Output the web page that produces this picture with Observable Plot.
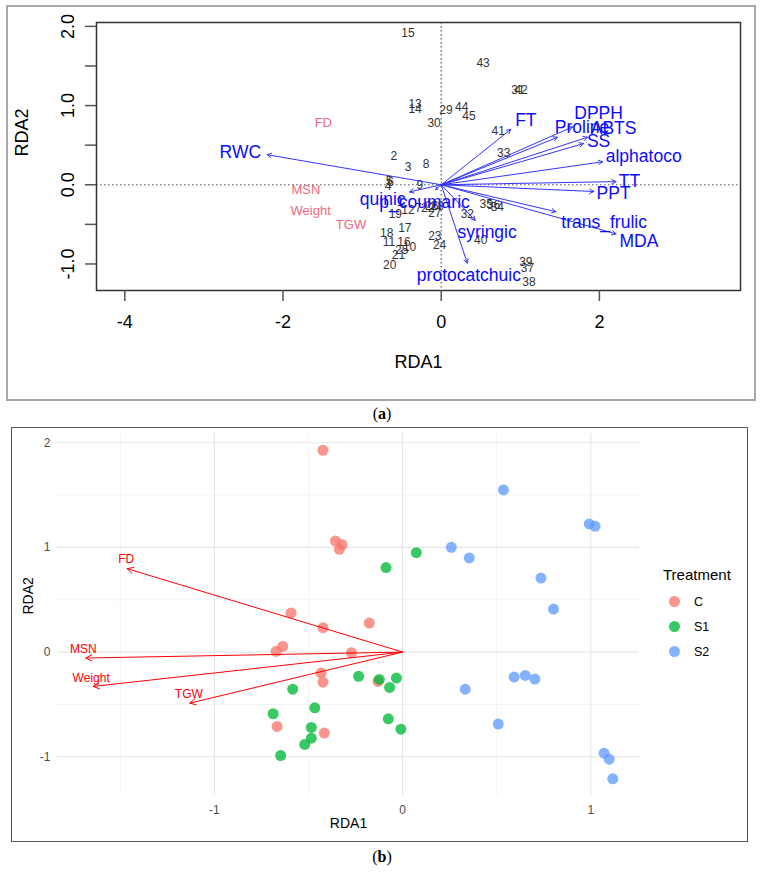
<!DOCTYPE html>
<html>
<head>
<meta charset="utf-8">
<script src="https://cdn.jsdelivr.net/npm/d3@7"></script>
<script src="https://cdn.jsdelivr.net/npm/@observablehq/plot@0.6"></script>
<style>
html,body{margin:0;padding:0;background:#fff;}
#page{position:relative;width:764px;height:872px;overflow:hidden;font-family:"Liberation Sans",Arial,sans-serif;}
.abs{position:absolute;}
#borderA{left:6px;top:5px;width:746px;height:392px;border:2px solid #a8a8a8;pointer-events:none;}
#borderB{left:11px;top:427px;width:735px;height:413px;border:1.5px solid #555;pointer-events:none;}
#chartA{left:0;top:0;}
#chartB{left:0;top:420px;}
.cap{font-family:"Liberation Serif","DejaVu Serif",serif;font-size:16px;color:#000;width:764px;text-align:center;left:0;}
#legend{left:663px;top:566px;font-family:"Liberation Sans",Arial,sans-serif;}
#legend .title{font-size:15px;color:#000;margin-bottom:6px;}
#legend .item{display:flex;align-items:center;height:25px;font-size:12.5px;color:#000;}
#legend .sw{width:11px;height:11px;border-radius:50%;margin-left:6px;margin-right:14px;}
</style>
</head>
<body>
<div id="page">
  <div id="chartA" class="abs"></div>
  <div id="borderA" class="abs"></div>
  <div class="abs cap" style="top:405px;">(<b>a</b>)</div>
  <div id="chartB" class="abs"></div>
  <div id="borderB" class="abs"></div>
  <div id="legend" class="abs"></div>
  <div class="abs cap" style="top:848px;">(<b>b</b>)</div>
</div>
<script>
// ---------------- Panel (a): RDA triplot (R base graphics) ----------------
const sampleIds = [1,2,3,4,5,6,7,8,9,10,11,12,13,14,15,16,17,18,19,20,21,22,23,24,25,26,27,28,29,30,31,32,33,34,35,36,37,38,39,40,41,42,43,44,45];
const sampleRDA1 = [-0.52,-0.60,-0.42,-0.67,-0.66,-0.64,-0.29,-0.19,-0.27,-0.40,-0.66,-0.42,-0.33,-0.33,-0.42,-0.47,-0.46,-0.69,-0.58,-0.65,-0.54,-0.17,-0.08,-0.02,-0.50,-0.12,-0.08,-0.05,0.06,-0.09,0.97,0.33,0.79,0.71,0.57,0.66,1.09,1.11,1.07,0.50,0.72,1.01,0.53,0.26,0.35];
const sampleRDA2 = [-0.22,0.36,0.22,-0.02,0.04,0.03,-0.29,0.26,-0.01,-0.79,-0.73,-0.32,1.02,0.96,1.91,-0.73,-0.55,-0.61,-0.37,-1.01,-0.89,-0.29,-0.65,-0.76,-0.83,-0.27,-0.36,-0.27,0.94,0.78,1.20,-0.37,0.40,-0.28,-0.25,-0.26,-1.05,-1.23,-0.98,-0.70,0.68,1.19,1.53,0.98,0.87];

const responseNames = ["RWC","FT","Proline","DPPH","ABTS","SS","alphatoco","TT","PPT","trans_frulic","MDA","syringic","protocatchuic","quinic","p_coumaric"];
const responseRDA1 = [-2.20,0.88,1.47,1.66,1.85,1.80,2.04,2.21,1.93,1.45,2.21,0.43,0.33,-0.40,-0.07];
const responseRDA2 = [0.38,0.70,0.60,0.73,0.60,0.52,0.29,0.04,-0.085,-0.34,-0.62,-0.45,-0.99,-0.09,-0.06];
const responseLabelRDA1 = [-2.54,1.07,1.78,1.99,2.18,1.99,2.56,2.38,2.18,2.06,2.50,0.58,0.35,-0.74,-0.21];
const responseLabelRDA2 = [0.41,0.81,0.73,0.90,0.71,0.55,0.36,0.04,-0.11,-0.48,-0.72,-0.60,-1.14,-0.18,-0.22];

const traitNamesA = ["FD","MSN","Weight","TGW"];
const traitRDA1A = [-1.49,-1.71,-1.65,-1.14];
const traitRDA2A = [0.78,-0.07,-0.33,-0.50];

const xTicksA = [-4,-2,0,2];
const yTicksA = [-1,-0.5,0,0.5,1,1.5,2];

// ---------------- Panel (b): ggplot RDA with treatments ----------------
const treatments = ["C","S1","S2"];
const treatmentColors = ["#F8766D","#00BA38","#619CFF"];
const cRDA1 = [-0.423,-0.357,-0.322,-0.336,-0.593,-0.423,-0.177,-0.672,-0.637,-0.272,-0.433,-0.423,-0.131,-0.667,-0.416];
const cRDA2 = [1.928,1.061,1.027,0.982,0.373,0.233,0.277,0.007,0.054,-0.006,-0.201,-0.287,-0.280,-0.710,-0.774];
const s1RDA1 = [-0.234,-0.124,-0.033,-0.069,-0.584,-0.467,-0.688,-0.485,-0.485,-0.520,-0.648,-0.076,-0.009,-0.088,0.073];
const s1RDA2 = [-0.232,-0.261,-0.248,-0.338,-0.354,-0.532,-0.589,-0.720,-0.822,-0.882,-0.988,-0.637,-0.736,0.807,0.950];
const s2RDA1 = [0.536,0.992,1.023,0.259,0.354,0.735,0.802,0.333,0.593,0.652,0.703,0.508,1.071,1.098,1.117];
const s2RDA2 = [1.549,1.224,1.202,1.001,0.899,0.707,0.411,-0.354,-0.239,-0.223,-0.258,-0.688,-0.966,-1.023,-1.211];

const traitNamesB = ["FD","MSN","Weight","TGW"];
const traitTipRDA1B = [-1.464,-1.684,-1.644,-1.131];
const traitTipRDA2B = [0.797,-0.057,-0.328,-0.488];
const traitLabelRDA1B = [-1.469,-1.697,-1.655,-1.136];
const traitLabelRDA2B = [0.883,0.026,-0.249,-0.404];

const xMajorB = [-1,0,1], xMinorB = [-1.5,-0.5,0.5];
const yMajorB = [-1,0,1,2], yMinorB = [-0.5,0.5,1.5];

// ---------------- build tables ----------------
const samplesA = sampleIds.map((id,i)=>({id:String(id), x:sampleRDA1[i], y:sampleRDA2[i]}));
const responsesA = responseNames.map((n,i)=>({name:n, x:responseRDA1[i], y:responseRDA2[i], lx:responseLabelRDA1[i], ly:responseLabelRDA2[i]}));
const traitsA = traitNamesA.map((n,i)=>({name:n, x:traitRDA1A[i], y:traitRDA2A[i]}));

const fontA = "'Liberation Sans', Arial, sans-serif";

const chartA = Plot.plot({
  width: 764, height: 410,
  marginLeft: 96, marginRight: 24, marginTop: 22, marginBottom: 120,
  x: {domain: [-4.358, 3.784], label: null},
  y: {domain: [-1.335, 2.049], label: null},
  style: {fontFamily: fontA, fontSize: "18px", color: "#000", background: "transparent", overflow: "visible"},
  marks: [
    Plot.ruleX([0], {stroke: "#555", strokeWidth: 1.2, strokeDasharray: "1.5,2.5"}),
    Plot.ruleY([0], {stroke: "#555", strokeWidth: 1.2, strokeDasharray: "1.5,2.5"}),
    Plot.text(samplesA, {x: "x", y: "y", text: "id", fill: "#333", fontSize: 12}),
    Plot.text(traitsA, {x: "x", y: "y", text: "name", fill: "#f06a7e", fontSize: 13}),
    Plot.arrow(responsesA, {x1: () => 0, y1: () => 0, x2: "x", y2: "y", stroke: "#3434ff", strokeWidth: 1, headLength: 7, headAngle: 55}),
    Plot.text(responsesA, {x: "lx", y: "ly", text: "name", fill: "#0a0aff", fontSize: 17.5}),
    Plot.frame({stroke: "#333", strokeWidth: 1.5}),
    Plot.axisX({ticks: xTicksA, tickSize: 11, tickPadding: 14, tickFormat: d => String(d), fontSize: 18, stroke: "#555", strokeWidth: 1.5, label: null}),
    Plot.axisY({ticks: yTicksA, tickSize: 11, tickPadding: 12, tickRotate: -90, tickFormat: d => Number.isInteger(d) ? d.toFixed(1) : "", fontSize: 18, stroke: "#555", strokeWidth: 1.5, label: null}),
    Plot.text(["RDA1"], {frameAnchor: "bottom", dy: 77, text: d => d, fontSize: 18}),
    Plot.text(["RDA2"], {frameAnchor: "left", dx: -74, rotate: -90, text: d => d, fontSize: 18})
  ]
});
document.getElementById("chartA").appendChild(chartA);

// ---------------- Panel (b) ----------------
const pointsB = [
  ...cRDA1.map((x,i)=>({x, y:cRDA2[i], treatment: treatments[0]})),
  ...s1RDA1.map((x,i)=>({x, y:s1RDA2[i], treatment: treatments[1]})),
  ...s2RDA1.map((x,i)=>({x, y:s2RDA2[i], treatment: treatments[2]}))
];
const traitsB = traitNamesB.map((n,i)=>({name:n, x:traitTipRDA1B[i], y:traitTipRDA2B[i], lx:traitLabelRDA1B[i], ly:traitLabelRDA2B[i]}));

const chartB = Plot.plot({
  width: 764, height: 430,
  marginLeft: 57, marginRight: 125, marginTop: 13, marginBottom: 55,
  x: {domain: [-1.834, 1.259], label: null},
  y: {domain: [-1.37, 2.088], label: null},
  color: {domain: treatments, range: treatmentColors},
  style: {fontFamily: fontA, fontSize: "12px", color: "#000", background: "transparent", overflow: "visible"},
  marks: [
    Plot.gridX(xMinorB, {stroke: "#eeeeee", strokeOpacity: 1, strokeWidth: 0.7}),
    Plot.gridY(yMinorB, {stroke: "#eeeeee", strokeOpacity: 1, strokeWidth: 0.7}),
    Plot.gridX(xMajorB, {stroke: "#e6e6e6", strokeOpacity: 1, strokeWidth: 1.1}),
    Plot.gridY(yMajorB, {stroke: "#e6e6e6", strokeOpacity: 1, strokeWidth: 1.1}),
    Plot.axisX({ticks: xMajorB, tickSize: 0, tickPadding: 10, tickFormat: d => String(d), fill: "#4d4d4d", fontSize: 12, label: null}),
    Plot.axisY({ticks: yMajorB, tickSize: 0, tickPadding: 7, tickFormat: d => String(d), fill: "#4d4d4d", fontSize: 12, label: null}),
    Plot.dot(pointsB, {x: "x", y: "y", fill: "treatment", r: 5.5, fillOpacity: 0.78}),
    Plot.arrow(traitsB, {x1: () => 0, y1: () => 0, x2: "x", y2: "y", stroke: "#ff0000", strokeWidth: 1, headLength: 10, headAngle: 55}),
    Plot.text(traitsB, {x: "lx", y: "ly", text: "name", fill: "#ff0000", fontSize: 12}),
    Plot.text(["RDA1"], {frameAnchor: "bottom", dy: 32, text: d => d, fontSize: 14, fill: "#000"}),
    Plot.text(["RDA2"], {frameAnchor: "left", dx: -29, rotate: -90, text: d => d, fontSize: 14, fill: "#000"})
  ]
});
document.getElementById("chartB").appendChild(chartB);

// legend (HTML) using the chart's own color scale
const colorScale = chartB.scale("color");
const legend = document.getElementById("legend");
const t = document.createElement("div");
t.className = "title"; t.textContent = "Treatment";
legend.appendChild(t);
for (const tr of colorScale.domain) {
  const item = document.createElement("div");
  item.className = "item";
  const sw = document.createElement("span");
  sw.className = "sw";
  sw.style.background = colorScale.apply(tr);
  sw.style.opacity = 0.78;
  const lab = document.createElement("span");
  lab.textContent = tr;
  item.appendChild(sw); item.appendChild(lab);
  legend.appendChild(item);
}
</script>
</body>
</html>
